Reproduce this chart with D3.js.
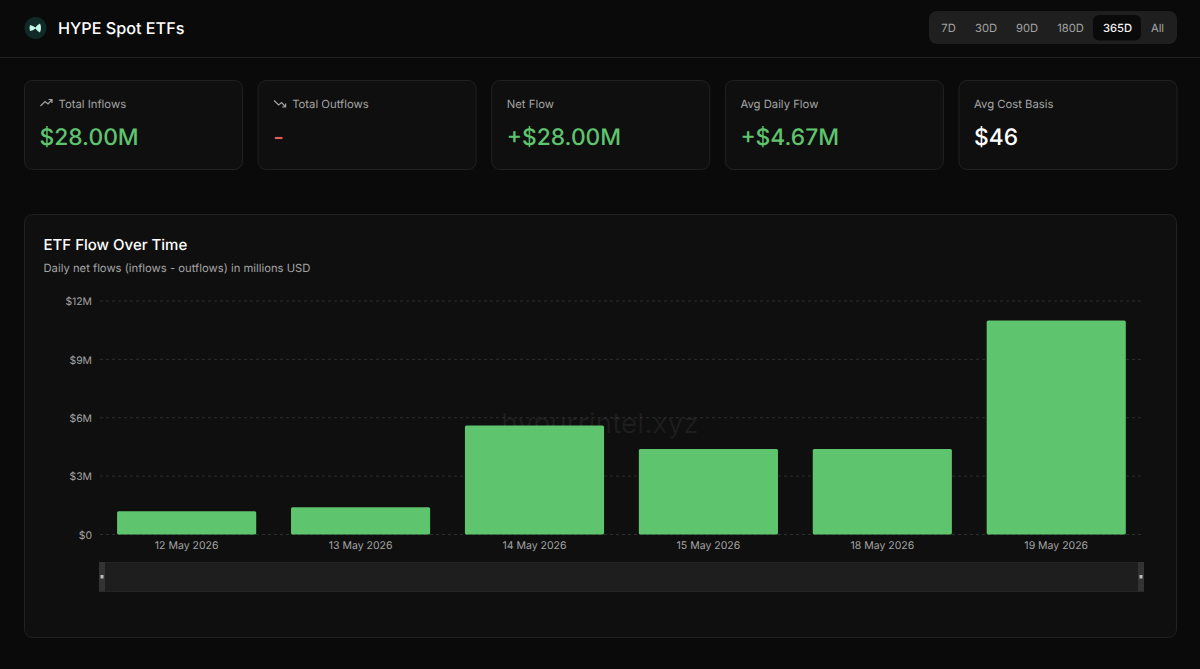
<!DOCTYPE html>
<html><head><meta charset="utf-8">
<script src="https://cdn.jsdelivr.net/npm/d3@7/dist/d3.min.js"></script>
<style>
html,body{margin:0;padding:0;background:#0a0a0a;overflow:hidden}
svg{display:block}
text{font-family:Inter,"Noto Sans",sans-serif;text-rendering:geometricPrecision}
</style></head><body>
<svg id="c" width="1200" height="669"></svg>
<script>
const days = ["12 May 2026","13 May 2026","14 May 2026","15 May 2026","18 May 2026","19 May 2026"];
const netFlows = [1.2,1.4,5.6,4.4,4.4,11.0];
const yTicks = [0,3,6,9,12];
const yTickLabels = ["$0","$3M","$6M","$9M","$12M"];
const ranges = ["7D","30D","90D","180D","365D","All"];
const activeRange = "365D";
const cardLabels = ["Total Inflows","Total Outflows","Net Flow","Avg Daily Flow","Avg Cost Basis"];
const cardValues = ["$28.00M","-","+$28.00M","+$4.67M","$46"];
const cardColors = ["#5fc46e","#e0605a","#5fc46e","#5fc46e","#ffffff"];

const svg = d3.select("#c");
svg.append("rect").attr("width",1200).attr("height",669).attr("fill","#0a0a0a");

// Header
svg.append("line").attr("x1",0).attr("x2",1200).attr("y1",57.5).attr("y2",57.5).attr("stroke","#222222");
svg.append("circle").attr("cx",35.5).attr("cy",28).attr("r",11).attr("fill","#0f2a27");
svg.append("path").attr("d","M30 25 Q33 25.5 35.5 27.5 Q37 25 40 23.5 Q42 28 40 32.5 Q37 31 35.5 28.5 Q33 30.5 30 31 Q29 28 30 25Z").attr("fill","#c6f5e6");
svg.append("text").attr("x",58).attr("y",33.5).attr("fill","#ffffff").attr("font-size",16.2).attr("font-weight",500).text("HYPE Spot ETFs");

// Range selector
svg.append("rect").attr("x",929).attr("y",11).attr("width",248).attr("height",33).attr("rx",8).attr("fill","#1f1f1f");
const rangeCx = d3.scaleOrdinal().domain(ranges).range([948.5,986,1027,1070.5,1117.5,1157.5]);
svg.append("rect").attr("x",1093).attr("y",15).attr("width",48).attr("height",25.5).attr("rx",6).attr("fill","#0a0a0a");
svg.selectAll(".rng").data(ranges).join("text").attr("class","rng")
  .attr("x",d=>rangeCx(d)).attr("y",32).attr("text-anchor","middle").attr("font-size",11.2)
  .attr("font-weight",d=>d===activeRange?500:400)
  .attr("fill",d=>d===activeRange?"#f5f5f5":"#a3a3a3").text(d=>d);

// Stat cards
const cardX = d3.scalePoint().domain(cardLabels).range([24.5,959]);
const cards = svg.selectAll(".card").data(cardLabels).join("g").attr("class","card")
  .attr("transform",d=>`translate(${cardX(d)},80.5)`);
cards.append("rect").attr("width",218).attr("height",89).attr("rx",8).attr("fill","#0f0f0f").attr("stroke","#212121");
cards.append("text").attr("x",(d,i)=>i<2?34:15).attr("y",27.8).attr("font-size",11.3).attr("fill","#a3a3a3").text(d=>d);
cards.append("text").attr("x",15).attr("y",64.3).attr("font-size",22.8).attr("font-weight",500)
  .attr("fill",(d,i)=>cardColors[i]).text((d,i)=>cardValues[i]);
cards.filter((d,i)=>i===0).append("path").attr("d","M16 29.5 L20.5 25 L23.5 27.5 L27.5 23 M24 23 H27.5 V26.5").attr("transform","translate(0,-4)")
  .attr("fill","none").attr("stroke","#a3a3a3").attr("stroke-width",1.2);
cards.filter((d,i)=>i===1).append("path").attr("d","M16 20 L20.5 24.5 L23.5 22 L27.5 26.5 M24 26.5 H27.5 V23")
  .attr("fill","none").attr("stroke","#a3a3a3").attr("stroke-width",1.2);

// Chart panel
svg.append("rect").attr("x",24.5).attr("y",214.5).attr("width",1152).attr("height",423).attr("rx",8).attr("fill","#0f0f0f").attr("stroke","#212121");
svg.append("text").attr("x",43.5).attr("y",250.3).attr("font-size",15).attr("font-weight",500).attr("fill","#ffffff").text("ETF Flow Over Time");
svg.append("text").attr("x",43.5).attr("y",271.8).attr("font-size",11.25).attr("fill","#a3a3a3").text("Daily net flows (inflows - outflows) in millions USD");

const x = d3.scaleBand().domain(days).range([99.7,1143.2]).paddingInner(0.2).paddingOuter(0.1);
const y = d3.scaleLinear().domain([0,12]).range([534.5,301]);

// Grid + y axis
const yAxis = d3.axisLeft(y).tickValues(yTicks).tickFormat((d,i)=>yTickLabels[i]).tickSize(0).tickPadding(8);
const gy = svg.append("g").attr("transform","translate(100,0.4)").call(yAxis);
gy.select(".domain").remove();
gy.selectAll("text").attr("fill","#a3a3a3").attr("font-size",10.4).attr("font-family","Inter");
svg.append("g").selectAll("line").data(yTicks).join("line")
  .attr("x1",100).attr("x2",1142).attr("y1",d=>y(d)).attr("y2",d=>y(d))
  .attr("stroke","#2e2e2e").attr("stroke-dasharray","3 3");

// Watermark
svg.append("text").attr("x",600).attr("y",433).attr("text-anchor","middle").attr("font-size",28)
  .attr("fill","#ffffff").attr("fill-opacity",0.06).text("hypurrintel.xyz");

// Bars
svg.append("g").selectAll("rect").data(netFlows).join("rect")
  .attr("x",(d,i)=>x(days[i])).attr("width",x.bandwidth())
  .attr("y",d=>y(d)).attr("height",d=>y(0)-y(d)).attr("rx",1.5).attr("fill","#5fc46e");

// X axis
const xAxis = d3.axisBottom(x).tickSize(0).tickPadding(7);
const gx = svg.append("g").attr("transform","translate(0,534.5)").call(xAxis);
gx.select(".domain").remove();
gx.selectAll("text").attr("fill","#a3a3a3").attr("font-size",10.5).attr("font-family","Inter");

// Brush
const brush = svg.append("g");
brush.append("rect").attr("x",99.5).attr("y",562.5).attr("width",1044).attr("height",29).attr("fill","#1e1e1e").attr("stroke","#242424");
brush.append("rect").attr("x",99).attr("y",562).attr("width",6).attr("height",29.5).attr("fill","#333333");
brush.append("rect").attr("x",1138).attr("y",562).attr("width",6).attr("height",29.5).attr("fill","#333333");
brush.append("rect").attr("x",100.5).attr("y",575).attr("width",3).attr("height",3.5).attr("fill","#bdbdbd");
brush.append("rect").attr("x",1139.5).attr("y",575).attr("width",3).attr("height",3.5).attr("fill","#bdbdbd");
</script></body></html>
